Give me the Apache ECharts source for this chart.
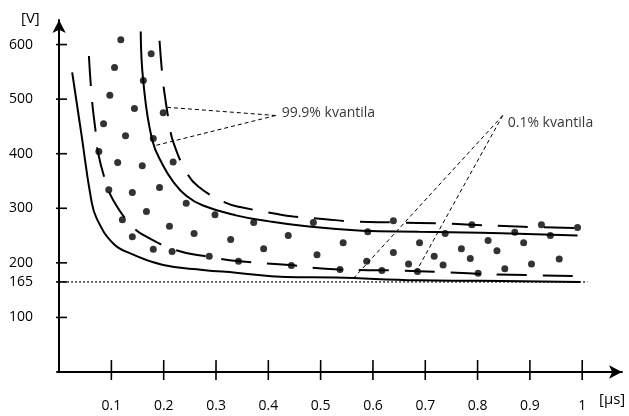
<!DOCTYPE html>
<html><head><meta charset="utf-8">
<script src="https://cdn.jsdelivr.net/npm/echarts@6/dist/echarts.min.js"></script>
<style>html,body{margin:0;padding:0;background:#fff}#c{width:629px;height:416px}</style>
</head><body><div id="c"></div>
<script>
// ---- data ----
const xTickValues = [0.1, 0.2, 0.3, 0.4, 0.5, 0.6, 0.7, 0.8, 0.9, 1];
const yTickValues = [100, 165, 200, 300, 400, 500, 600];
const asymptoteValue = 165;
const asymptoteX = [0, 1.01];

// lower solid curve (0.1% kvantila)
const lowerSolidX = [0.025, 0.042, 0.061, 0.072, 0.104, 0.137, 0.199, 0.275, 0.338, 0.433, 0.528, 0.687, 0.806, 0.996];
const lowerSolidY = [549, 440, 318, 281, 235, 217, 196, 187, 182, 174, 173, 168, 167, 165];
// lower dashed curve (0.1% kvantila)
const lowerDashX = [0.057, 0.063, 0.070, 0.074, 0.089, 0.104, 0.139, 0.167, 0.224, 0.275, 0.345, 0.440, 0.509, 0.575, 0.640, 0.734, 0.830, 0.990];
const lowerDashY = [579, 497, 439, 404, 349, 314, 268, 248, 223, 213, 203, 196, 189, 187, 186, 183, 179, 176];
// upper solid curve (99.9% kvantila)
const upperSolidX = [0.156, 0.161, 0.178, 0.199, 0.218, 0.243, 0.275, 0.338, 0.402, 0.465, 0.579, 0.687, 0.806, 0.991];
const upperSolidY = [624, 532, 425, 378, 349, 323, 305, 287, 276, 268, 259, 257, 255, 250];
// upper dashed curve (99.9% kvantila)
const upperDashX = [0.192, 0.197, 0.201, 0.211, 0.218, 0.243, 0.266, 0.319, 0.353, 0.414, 0.448, 0.509, 0.560, 0.641, 0.734, 0.787, 0.888, 0.991];
const upperDashY = [607, 547, 514, 453, 422, 367, 340, 310, 301, 290, 285, 280, 276, 274, 272, 270, 266, 264];

// measured points
const dotsX = [0.118,0.176,0.106,0.161,0.097,0.144,0.199,0.085,0.127,0.180,0.076,0.112,0.159,0.218,0.095,0.140,0.192,0.243,0.167,0.121,0.211,0.258,0.140,0.180,0.216,0.287,0.298,0.372,0.486,0.328,0.438,0.543,0.391,0.493,0.343,0.444,0.537,0.639,0.590,0.738,0.689,0.769,0.639,0.717,0.786,0.588,0.668,0.734,0.617,0.685,0.801,0.789,0.922,0.991,0.871,0.939,0.820,0.888,0.837,0.956,0.903,0.852];
const dotsY = [609,583,558,534,507,483,475,455,433,428,404,384,378,385,334,329,338,309,294,279,267,254,248,225,221,212,288,274,274,243,250,237,226,215,203,195,188,277,257,254,237,226,219,212,208,203,198,196,186,184,181,270,270,265,256,250,241,237,222,207,198,189];

// annotation leaders
const label999 = '99.9% kvantila';
const hub999 = [0.414, 470];
const ends999X = [0.207, 0.184];
const ends999Y = [485, 415];
const label01 = '0.1% kvantila';
const hub01 = [0.848, 470];
const ends01X = [0.564, 0.683];
const ends01Y = [173, 185];

// ---- build ----
const zip = (xs, ys) => xs.map((x, i) => [x, ys[i]]);
const FONT = '"Open Sans", "Liberation Sans", sans-serif';
const BLACK = '#000';
const X_MIN = -0.004, X_MAX = 1.076, Y_MIN = 0, Y_MAX = 645;
const GRID = { left: 57, right: 7, top: 20, bottom: 44 };
const W = 629, H = 416;
const xPerPx = (X_MAX - X_MIN) / (W - GRID.left - GRID.right);
const yPerPx = (Y_MAX - Y_MIN) / (H - GRID.top - GRID.bottom);

function curve(name, xs, ys, dashed) {
  return {
    name, type: 'line', data: zip(xs, ys), smooth: 0.45,
    symbol: 'none', silent: true, z: 3,
    lineStyle: { color: BLACK, width: 2, type: dashed ? [30, 16] : 'solid', cap: 'butt' }
  };
}
function leader(hub, xs, ys) {
  return xs.map((x, i) => ({
    type: 'line', data: [hub, [x, ys[i]]], symbol: 'none', silent: true, z: 4,
    lineStyle: { color: BLACK, width: 1, type: [4, 3] }
  }));
}
function tickLine(data) {
  return { type: 'line', data, symbol: 'none', silent: true, clip: false, zlevel: 1, z: 10,
    lineStyle: { color: BLACK, width: 1.6 } };
}
// ticks crossing the axis lines: y ticks 10px each side, x ticks 12px above / 8px below
const yTickSeries = yTickValues.map(v => tickLine([[X_MIN - 10 * xPerPx, v], [X_MIN + 10 * xPerPx, v]]));
const xTickSeries = xTickValues.map(v => tickLine([[v - 0.0001, Y_MIN - 8 * yPerPx], [v, Y_MIN + 12 * yPerPx]]));

const chart = echarts.init(document.getElementById('c'), null, { renderer: 'canvas' });

chart.setOption({
  animation: false,
  backgroundColor: '#fff',
  grid: GRID,
  xAxis: {
    type: 'value', min: X_MIN, max: X_MAX, splitLine: { show: false },
    axisLine: { show: true, symbol: ['none', 'arrow'], symbolSize: [10, 13], lineStyle: { color: BLACK, width: 2 } },
    axisTick: { show: false },
    axisLabel: { show: true, customValues: xTickValues, margin: 27, fontFamily: FONT, fontSize: 14, color: BLACK,
      formatter: v => String(+(+v).toFixed(1)) }
  },
  yAxis: {
    type: 'value', min: Y_MIN, max: Y_MAX, splitLine: { show: false },
    axisLine: { show: true, symbol: ['none', 'arrow'], symbolSize: [10, 13], lineStyle: { color: BLACK, width: 2 } },
    axisTick: { show: false },
    axisLabel: { show: true, customValues: yTickValues, margin: 24, fontFamily: FONT, fontSize: 14, color: BLACK }
  },
  graphic: [
    { type: 'text', left: 21, top: 11, style: { text: '[V]', font: '15px ' + FONT, fill: BLACK } },
    { type: 'text', left: 599, top: 392, style: { text: '[µs]', font: '15px ' + FONT, fill: BLACK } }
  ],
  series: [
    {
      type: 'line', data: asymptoteX.map(x => [x, asymptoteValue]), symbol: 'none', silent: true, z: 2,
      lineStyle: { color: BLACK, width: 1.2, type: [2, 2] }
    },
    curve('lowerSolid', lowerSolidX, lowerSolidY, false),
    curve('lowerDash', lowerDashX, lowerDashY, true),
    curve('upperSolid', upperSolidX, upperSolidY, false),
    curve('upperDash', upperDashX, upperDashY, true),
    ...leader(hub999, ends999X, ends999Y),
    ...leader(hub01, ends01X, ends01Y),
    ...yTickSeries,
    ...xTickSeries,
    {
      type: 'scatter', data: [hub999], symbolSize: 0, silent: true, z: 5,
      label: { show: true, position: 'right', distance: 6, offset: [0, -2], formatter: label999,
        fontFamily: FONT, fontSize: 14, color: BLACK }
    },
    {
      type: 'scatter', data: [hub01], symbolSize: 0, silent: true, z: 5,
      label: { show: true, position: 'right', distance: 5, offset: [0, 8], formatter: label01,
        fontFamily: FONT, fontSize: 14, color: BLACK }
    },
    {
      type: 'scatter', data: zip(dotsX, dotsY), symbol: 'circle', symbolSize: 7, silent: true, z: 6,
      itemStyle: { color: BLACK }
    }
  ]
});
</script></body></html>
